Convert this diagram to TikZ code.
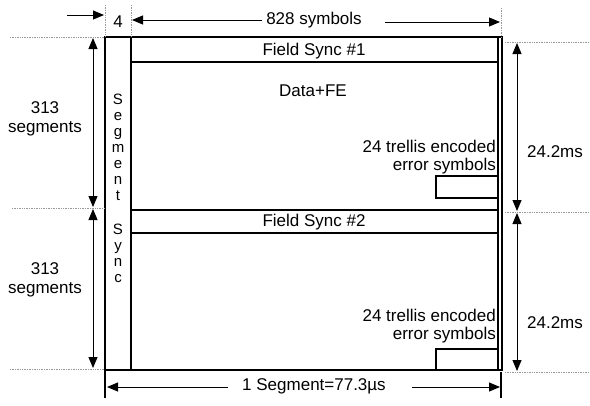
\documentclass[tikz,border=0pt]{standalone}
\usepackage{fontspec}
\setmainfont{Liberation Sans}
\usetikzlibrary{arrows.meta}
\begin{document}
\begin{tikzpicture}[x=1bp,y=-1bp,
  lbl/.style={inner sep=0pt, font=\fontsize{17bp}{18.5bp}\selectfont},
  vlet/.style={inner sep=0pt, anchor=base, font=\fontsize{15bp}{15bp}\selectfont},
  ext/.style={gray!80, densely dotted, line width=0.7bp},
  frm/.style={line width=1.1bp},
  tip/.style={-{Triangle[length=11bp,width=9bp]}},
  dim/.style={line width=0.9bp, tip},
  ddim/.style={line width=0.9bp, {Triangle[length=11bp,width=9bp]}-{Triangle[length=11bp,width=9bp]}}]

\useasboundingbox (0,0) rectangle (590,405);

% frame corners
\coordinate (TL) at (105,37);
\coordinate (TR) at (502,37);
\coordinate (BL) at (105,370);
\coordinate (BR) at (502,370);
\coordinate (TRi) at (498,37);
\coordinate (BRi) at (498,370);
\coordinate (ST) at (131,37);
\coordinate (SB) at (131,370);

\draw[frm] (TL) rectangle (BR);
\draw[frm] (TRi) -- (BRi);
\draw[frm] (ST) -- (SB);

% field sync rows
\coordinate (F1L) at (131,62);  \coordinate (F1R) at (498,62);
\coordinate (F2aL) at (131,210); \coordinate (F2aR) at (498,210);
\coordinate (F2bL) at (131,233); \coordinate (F2bR) at (498,233);
\draw[frm] (F1L) -- (F1R);
\draw[frm] (F2aL) -- (F2aR);
\draw[frm] (F2bL) -- (F2bR);

\node[lbl] (fs1) at (314,51) {Field Sync \#1};
\node[lbl] (fs2) at (314,222) {Field Sync \#2};
\node[lbl] (data) at (313,91) {Data+FE};

% trellis boxes
\coordinate (R1a) at (498,176); \coordinate (R1b) at (436,176);
\coordinate (R1c) at (436,198); \coordinate (R1d) at (498,198);
\draw[frm] (R1a) -- (R1b) -- (R1c) -- (R1d);
\coordinate (R2a) at (498,349); \coordinate (R2b) at (436,349);
\coordinate (R2c) at (436,370);
\draw[frm] (R2a) -- (R2b) -- (R2c);

\node[lbl, align=right, anchor=east] (tr1) at (496,157) {24 trellis encoded\\error symbols};
\node[lbl, align=right, anchor=east] (tr2) at (496,326) {24 trellis encoded\\error symbols};

% Segment Sync vertical letters
\foreach \c/\yy [count=\i] in {S/104,e/120,g/136,m/152,e/168,n/184,t/200,S/234,y/250,n/266,c/282}
  \node[vlet] (ss\i) at (118,\yy) {\c};

% top dimension
\coordinate (t1a) at (105,5);  \coordinate (t1b) at (105,37);
\coordinate (t2a) at (131,5);  \coordinate (t2b) at (131,37);
\coordinate (t3a) at (501,8);  \coordinate (t3b) at (501,37);
\draw[ext] (t1a) -- (t1b);
\draw[ext] (t2a) -- (t2b);
\draw[ext] (t3a) -- (t3b);
\node[lbl] (four) at (118,22) {4};
\node[lbl] (sym) at (314,20) {828 symbols};
\coordinate (a1s) at (67,15);  \coordinate (a1e) at (104,15);
\coordinate (a2s) at (262,20); \coordinate (a2e) at (132,20);
\coordinate (a3s) at (385,22); \coordinate (a3e) at (500,22);
\draw[dim] (a1s) -- (a1e);
\draw[dim] (a2s) -- (a2e);
\draw[dim] (a3s) -- (a3e);

% left dimension
\coordinate (l1a) at (10,37);  \coordinate (l1b) at (104,37);
\coordinate (l2a) at (12,208); \coordinate (l2b) at (104,208);
\coordinate (l3a) at (10,369); \coordinate (l3b) at (104,369);
\draw[ext] (l1a) -- (l1b);
\draw[ext] (l2a) -- (l2b);
\draw[ext] (l3a) -- (l3b);
\coordinate (la1) at (93,38);  \coordinate (la2) at (93,207);
\coordinate (la3) at (93,209); \coordinate (la4) at (93,368);
\draw[ddim] (la1) -- (la2);
\draw[ddim] (la3) -- (la4);
\node[lbl, align=center] (seg1) at (45,119) {313\\segments};
\node[lbl, align=center] (seg2) at (45,280) {313\\segments};

% right dimension
\coordinate (r1a) at (505,42);  \coordinate (r1b) at (590,42);
\coordinate (r2a) at (505,212); \coordinate (r2b) at (590,212);
\coordinate (r3a) at (505,372); \coordinate (r3b) at (590,372);
\draw[ext] (r1a) -- (r1b);
\draw[ext] (r2a) -- (r2b);
\draw[ext] (r3a) -- (r3b);
\coordinate (ra1) at (517,43);  \coordinate (ra2) at (517,211);
\coordinate (ra3) at (517,213); \coordinate (ra4) at (517,371);
\draw[ddim] (ra1) -- (ra2);
\draw[ddim] (ra3) -- (ra4);
\node[lbl] (ms1) at (555,152) {24.2ms};
\node[lbl] (ms2) at (555,323) {24.2ms};

% bottom dimension
\coordinate (b1a) at (105,370); \coordinate (b1b) at (105,398);
\coordinate (b2a) at (501,372); \coordinate (b2b) at (501,398);
\draw[frm] (b1a) -- (b1b);
\draw[frm] (b2a) -- (b2b);
\node[lbl] (segt) at (314,386) {1 Segment=77.3µs};
\coordinate (ba1s) at (228,387); \coordinate (ba1e) at (107,387);
\coordinate (ba2s) at (412,387); \coordinate (ba2e) at (500,387);
\draw[dim] (ba1s) -- (ba1e);
\draw[dim] (ba2s) -- (ba2e);
\end{tikzpicture}
\end{document}
